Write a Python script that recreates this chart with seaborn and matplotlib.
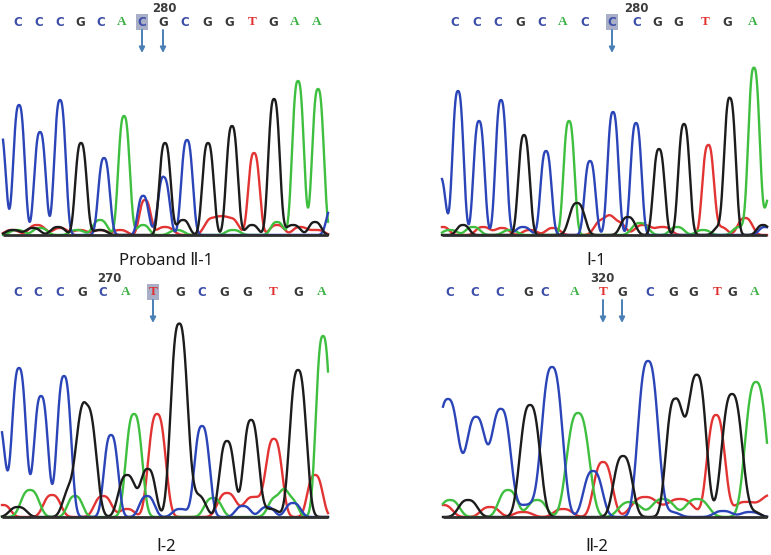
import numpy as np
import pandas as pd
import matplotlib.pyplot as plt
import seaborn as sns

# Panel 1: Proband II-1
P1_C = [(0, 105, 5.5), (19, 130, 5.5), (40, 103, 5.5), (60, 135, 5.5), (104, 77, 5.5),
        (143, 39, 5.1), (164, 55, 5.5), (187, 95, 5.5), (157, 5, 7), (333, 30, 6)]
P1_G = [(81, 92, 5.5), (165, 92, 5.5), (208, 92, 5.5), (232, 109, 5.5), (274, 136, 5.5),
        (13, 5, 7), (33, 7, 7), (58, 8, 7), (100, 5, 7), (183, 15, 6), (252, 10, 6),
        (293, 10, 7), (315, 13, 6)]
P1_A = [(124, 119, 5.5), (298, 154, 5.6), (318, 146, 5.6), (17, 5, 7), (40, 7, 7),
        (77, 5, 7), (100, 15, 7), (143, 10, 6), (177, 5, 7), (233, 5, 7), (277, 13, 6)]
P1_T = [(145, 35, 5.5), (254, 82, 5.5), (12, 5, 7), (37, 10, 8), (60, 7, 7), (80, 5, 7),
        (100, 5, 7), (120, 5, 7), (165, 8, 8), (213, 17, 8), (230, 17, 8), (277, 10, 7),
        (300, 8, 7), (317, 5, 7)]

# Panel 2: I-1
P2_C = [(440, 58, 5.3), (458, 144, 5.3), (479, 114, 5.3), (501, 135, 5.3), (546, 84, 5.3),
        (590, 74, 5.3), (613, 123, 5.3), (636, 112, 5.3), (523, 8, 7), (765, 8, 6)]
P2_G = [(524, 100, 5.5), (659, 86, 5.5), (684, 111, 5.5), (730, 136, 5.5), (463, 10, 6),
        (577, 32, 7.5), (628, 18, 7), (720, 8, 6), (763, 10, 6)]
P2_A = [(569, 114, 5.3), (754, 167, 5.5), (772, 45, 6), (450, 5, 7), (473, 8, 7),
        (510, 5, 7), (640, 12, 8), (677, 8, 7), (703, 5, 7), (740, 8, 7)]
P2_T = [(708, 89, 5.5), (443, 8, 6), (483, 8, 7), (502, 7, 7), (530, 5, 7), (553, 7, 7),
        (603, 15, 8), (617, 13, 8), (643, 10, 8), (663, 8, 8), (720, 8, 7), (745, 17, 7)]

# Panel 3: I-2
P3_C = [(-2, 95, 6.8), (19, 149, 6.8), (41, 121, 6.8), (64, 141, 6.8), (111, 82, 6.8),
        (202, 91, 7.3), (147, 21, 7.3), (180, 8, 7.3), (243, 11, 7.3), (267, 10, 7.3),
        (293, 14, 7.3)]
P3_G = [(87, 110, 8.8), (72, 30, 8.3), (179, 193, 8), (227, 76, 7.3), (251, 97, 7.3),
        (298, 147, 8), (127, 42, 8.3), (148, 48, 7.3), (18, 10, 8.3), (197, 22, 8.3),
        (270, 8, 8.3)]
P3_A = [(134, 103, 7.8), (323, 181, 6.8), (30, 27, 8.8), (75, 21, 7.3), (213, 19, 8.3),
        (277, 20, 8.3), (290, 18, 7.3)]
P3_T = [(157, 103, 8.3), (274, 78, 7.8), (315, 42, 7.3), (3, 12, 7.3), (52, 22, 8.3),
        (103, 21, 8.3), (127, 8, 7.3), (227, 24, 9), (253, 20, 9)]

# Panel 4: II-2
P4_C = [(448, 118, 10.5), (476, 100, 9.6), (501, 108, 9.4), (527, 12, 9), (552, 150, 10),
        (593, 46, 9), (648, 156, 9.6), (670, 5, 9), (723, 6, 9), (750, 5, 9)]
P4_G = [(530, 112, 9.6), (623, 61, 9), (675, 118, 8.6), (697, 142, 8.8), (732, 123, 9.8),
        (468, 17, 9), (753, 5, 7)]
P4_A = [(578, 104, 10.8), (756, 135, 10.3), (450, 17, 9), (508, 27, 9), (537, 17, 9),
        (630, 15, 11), (663, 18, 11), (697, 18, 11)]
P4_T = [(603, 55, 9), (716, 102, 8.6), (443, 12, 9), (490, 10, 9), (523, 5, 9), (563, 8, 9),
        (645, 20, 13), (680, 18, 13), (745, 15, 11), (772, 22, 11)]

# secuencias mostradas sobre cada traza
P1_SEQ = "CCCGCACGCGGTGAA"
P1_SEQ_X = [18, 39, 60, 80, 101, 122, 142, 163, 185, 207, 229, 252, 273, 295, 317]
P2_SEQ = "CCCGCACCCGGTGA"
P2_SEQ_X = [455, 477, 498, 520, 542, 563, 585, 612, 637, 657, 678, 705, 727, 753]
P3_SEQ = "CCCGCATGCGGTGA"
P3_SEQ_X = [18, 38, 60, 82, 103, 126, 153, 180, 202, 224, 247, 273, 298, 322]
P4_SEQ = "CCCGCATGCGGTGA"
P4_SEQ_X = [450, 475, 500, 528, 545, 575, 603, 622, 650, 673, 693, 717, 732, 755]

# numeracion de bases (posicion, texto)
P1_NUM = (164, "280")
P2_NUM = (636, "280")
P3_NUM = (109, "270")
P4_NUM = (602, "320")

# base resaltada y flechas (indices en la secuencia)
P1_MARK, P1_ARROWS = 6, [6, 7]
P2_MARK, P2_ARROWS = 7, [7]
P3_MARK, P3_ARROWS = 6, [6]
P4_MARK, P4_ARROWS = None, [6, 7]

TITLES = ["Proband \u2161-1", "\u2160-1", "\u2160-2", "\u2161-2"]

COLORS = {"A": "#3fbf3f", "C": "#2b45b8", "G": "#1c1c1c", "T": "#e33434"}
TEXT_COLORS = {"A": "#3cb043", "C": "#3d4ea8", "G": "#3a3a3a", "T": "#e03030"}

W, H = 771, 555
FORMA = 2.7  # exponente del perfil de pico


def senal(xs, picos):
    y = np.zeros_like(xs)
    for p, h, w in picos:
        y += h * np.exp(-0.5 * np.abs((xs - p) / w) ** FORMA)
    return y


def dibujar_panel(fig, caja, rango, picos, seq, seq_x, num, mark, flechas, titulo, titulo_y):
    x0, x1, top, base = caja
    alto = base - top
    ax = fig.add_axes([x0 / W, (H - base - 3) / H, (x1 - x0) / W, (alto + 3) / H])

    xs = np.arange(rango[0], rango[1] + 0.01, 0.25)
    filas = []
    for b in ["T", "A", "C", "G"]:
        filas.append(pd.DataFrame({"scan": xs, "signal": senal(xs, picos[b]), "base": b}))
    df = pd.concat(filas, ignore_index=True)
    sns.lineplot(data=df, x="scan", y="signal", hue="base", hue_order=["T", "A", "C", "G"],
                 palette=COLORS, estimator=None, errorbar=None, legend=False,
                 linewidth=1.7, ax=ax)
    ax.plot([rango[0], rango[1]], [0, 0], color="#2e2e2e", lw=2, solid_capstyle="butt")
    ax.set_xlim(x0, x1)
    ax.set_ylim(-3, alto)
    ax.axis("off")

    y_letra = alto - 22
    for i, (b, x) in enumerate(zip(seq, seq_x)):
        if b in "AT":
            fam, tam = "Liberation Serif", 9.5
        else:
            fam, tam = "DejaVu Sans", 8.5
        kw = {}
        if i == mark:
            kw["bbox"] = dict(boxstyle="square,pad=0.12", fc="#a9afc7", ec="none")
        ax.text(x, y_letra, b, color=TEXT_COLORS[b], fontsize=tam, family=fam,
                weight="bold", ha="center", va="center", **kw)
    ax.text(num[0], alto - 9, num[1], color="#3c3c3c", fontsize=8.5, family="DejaVu Sans",
            weight="bold", ha="center", va="center")
    for i in flechas:
        ax.annotate("", xy=(seq_x[i], alto - 53), xytext=(seq_x[i], alto - 30),
                    arrowprops=dict(arrowstyle="-|>", color="#4a7fb6", lw=1.4,
                                    mutation_scale=8, shrinkA=0, shrinkB=0))
    fig.text((x0 + x1) / 2 / W - 0.005, 1 - titulo_y / H, titulo, fontsize=12,
             family=["Noto Sans", "DejaVu Sans"], ha="center", va="center", color="#1a1a1a")


fig = plt.figure(figsize=(W / 100, H / 100), dpi=100)
fig.patch.set_facecolor("white")

dibujar_panel(fig, (0, 340, 0, 235), (3, 328), {"A": P1_A, "C": P1_C, "G": P1_G, "T": P1_T},
              P1_SEQ, P1_SEQ_X, P1_NUM, P1_MARK, P1_ARROWS, TITLES[0], 261)
dibujar_panel(fig, (430, 771, 0, 235), (442, 767), {"A": P2_A, "C": P2_C, "G": P2_G, "T": P2_T},
              P2_SEQ, P2_SEQ_X, P2_NUM, P2_MARK, P2_ARROWS, TITLES[1], 261)
dibujar_panel(fig, (0, 340, 270, 517), (2, 328), {"A": P3_A, "C": P3_C, "G": P3_G, "T": P3_T},
              P3_SEQ, P3_SEQ_X, P3_NUM, P3_MARK, P3_ARROWS, TITLES[2], 547)
dibujar_panel(fig, (430, 771, 270, 517), (443, 767), {"A": P4_A, "C": P4_C, "G": P4_G, "T": P4_T},
              P4_SEQ, P4_SEQ_X, P4_NUM, P4_MARK, P4_ARROWS, TITLES[3], 547)

fig.savefig("out.png", dpi=100)
